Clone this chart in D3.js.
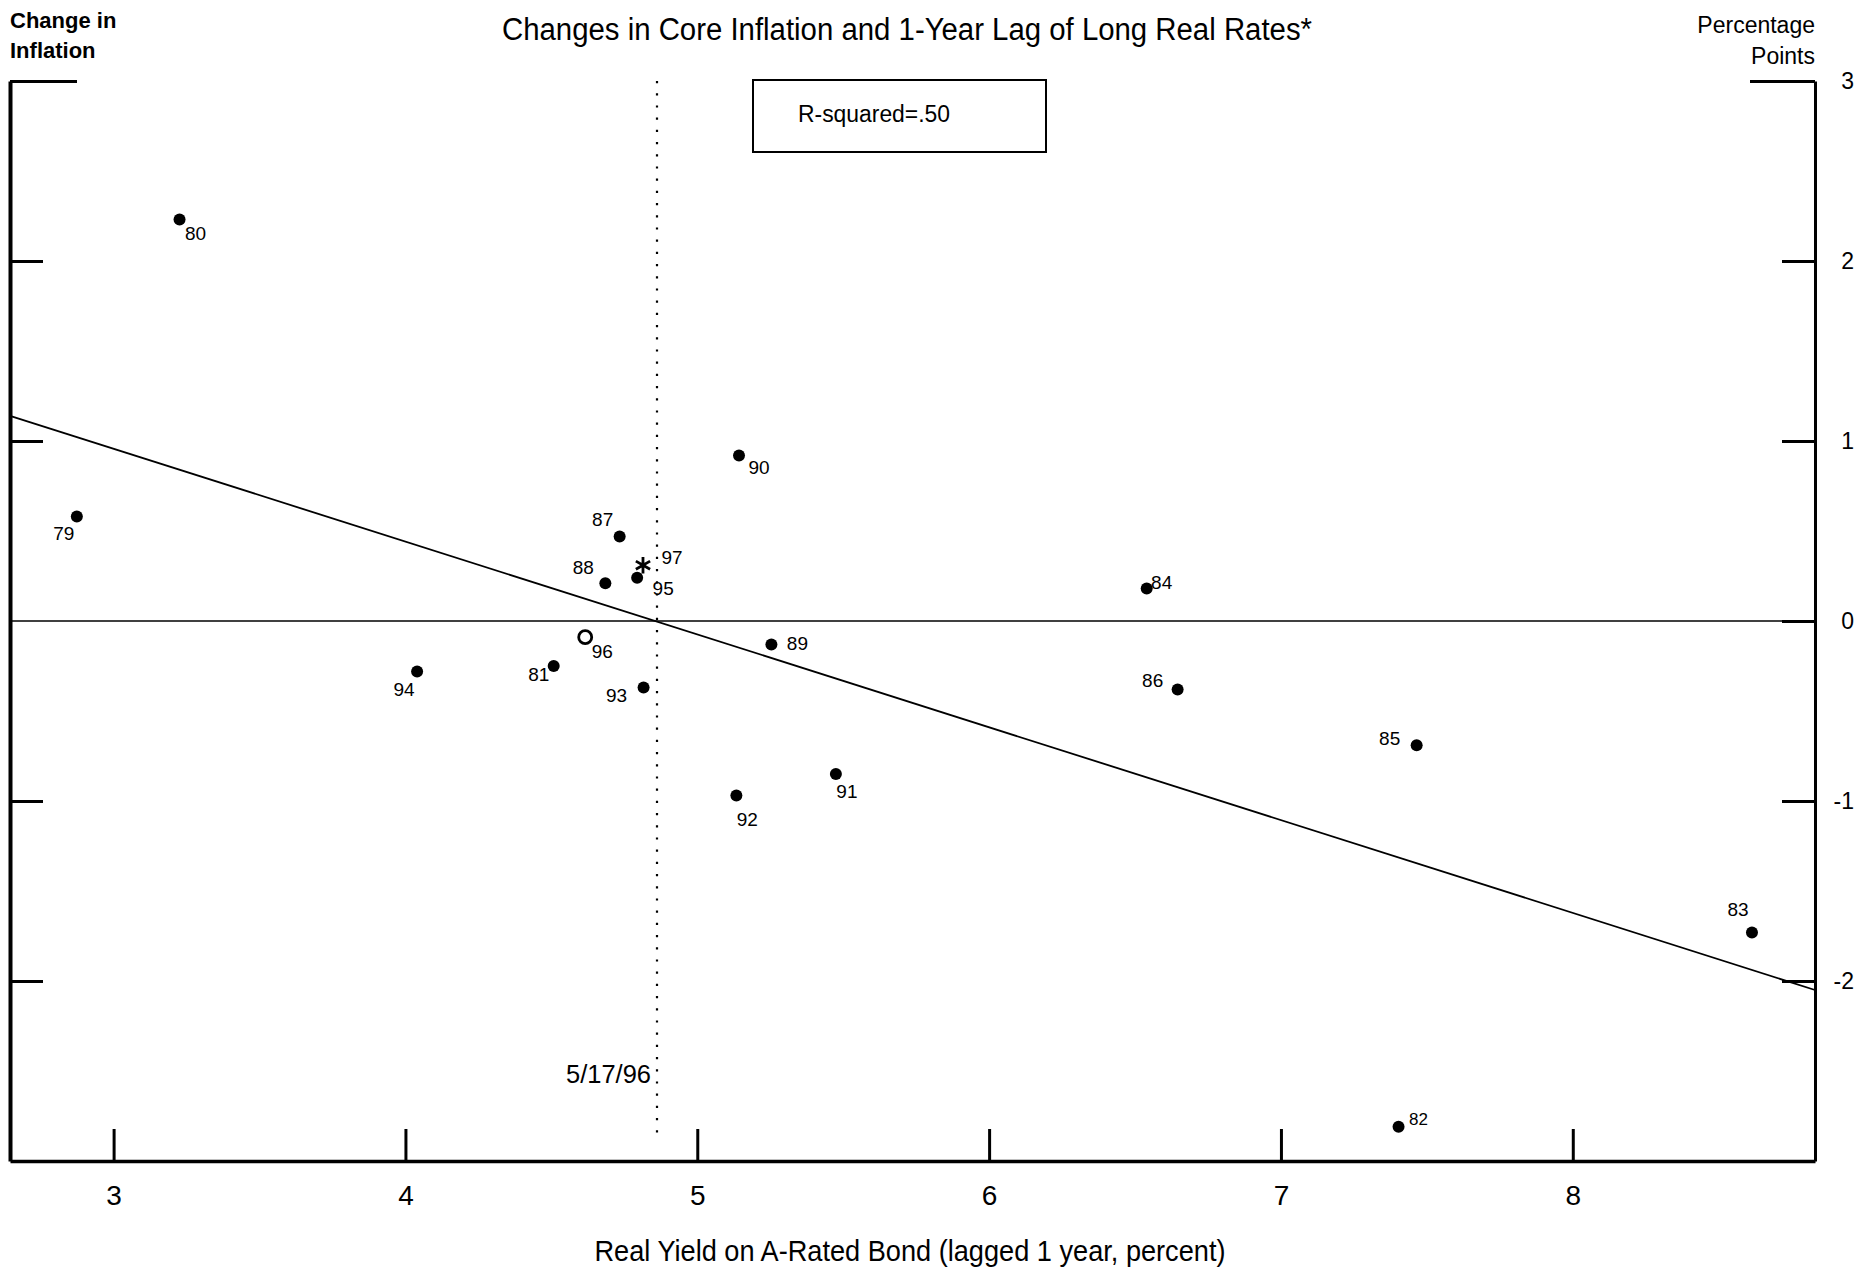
<!DOCTYPE html>
<html>
<head>
<meta charset="utf-8">
<script src="https://cdn.jsdelivr.net/npm/d3@7"></script>
<style>
body { margin: 0; background: #fff; }
text { font-family: "Liberation Sans", Arial, sans-serif; fill: #000; }
</style>
</head>
<body>
<div id="scatterplot"></div>
<script>
var svgWidth = 1874;
var svgHeight = 1268;

var margin = {
  top: 81,
  right: 59,
  bottom: 107,
  left: 10
};

var width = svgWidth - margin.left - margin.right;
var height = svgHeight - margin.top - margin.bottom;

// data
var years = ["79", "80", "81", "82", "83", "84", "85", "86", "87", "88",
             "89", "90", "91", "92", "93", "94", "95", "96", "97"];
var realYield = [2.874, 3.226, 4.508, 7.403, 8.614, 6.540, 7.465, 6.646, 4.734, 4.685,
                 5.254, 5.143, 5.475, 5.134, 4.816, 4.040, 4.794, 4.616, 4.814];
var inflationChange = [0.58, 2.23, -0.25, -2.81, -1.73, 0.18, -0.69, -0.38, 0.47, 0.21,
                       -0.13, 0.92, -0.85, -0.97, -0.37, -0.28, 0.24, -0.09, 0.31];
var markerKind = ["dot", "dot", "dot", "dot", "dot", "dot", "dot", "dot", "dot", "dot",
                  "dot", "dot", "dot", "dot", "dot", "dot", "dot", "open", "star"];

var fitX = [2.645, 8.83];
var fitY = [1.14, -2.05];
var dateLineX = 4.862;
var dateLineY = [3, -2.85];

var xTicks = [3, 4, 5, 6, 7, 8];
var yTicks = [3, 2, 1, 0, -1, -2];

// label placement (pixels from the point)
var labelOffset = {
  "79": [-13, 17], "80": [16, 14], "81": [-15, 8], "82": [20, -8], "83": [-14, -23],
  "84": [15, -6], "85": [-27, -7], "86": [-25, -9], "87": [-17, -17], "88": [-22, -16],
  "89": [26, -1], "90": [20, 12], "91": [11, 17], "92": [11, 24], "93": [-27, 8],
  "94": [-13, 18], "95": [26, 11], "96": [17, 14], "97": [29, -8]
};

var points = years.map(function(yr, i) {
  return {year: yr, x: realYield[i], y: inflationChange[i], kind: markerKind[i]};
});

var svg = d3.select("#scatterplot")
.append("svg")
.attr("width", svgWidth)
.attr("height", svgHeight);

var chartGroup = svg.append("g")
.attr("transform", `translate(${margin.left}, ${margin.top})`);

var xLinearScale = d3.scaleLinear()
.domain([2.645, 8.83])
.range([0, width]);

var yLinearScale = d3.scaleLinear()
.domain([-3, 3])
.range([height, 0]);

// zero line
chartGroup.append("line")
.attr("x1", 0)
.attr("x2", width)
.attr("y1", yLinearScale(0))
.attr("y2", yLinearScale(0))
.attr("stroke", "#000")
.attr("stroke-width", 1.6);

// dotted date line
chartGroup.append("line")
.attr("x1", xLinearScale(dateLineX))
.attr("x2", xLinearScale(dateLineX))
.attr("y1", yLinearScale(dateLineY[0]))
.attr("y2", yLinearScale(dateLineY[1]))
.attr("stroke", "#000")
.attr("stroke-width", 2.2)
.attr("stroke-dasharray", "2.2,10");

chartGroup.append("text")
.attr("x", xLinearScale(dateLineX) - 6)
.attr("y", yLinearScale(-2.52))
.attr("dy", "0.35em")
.attr("text-anchor", "end")
.attr("font-size", 25)
.attr("textLength", 85)
.attr("lengthAdjust", "spacingAndGlyphs")
.text("5/17/96");

// regression line
var fitLine = d3.line()
.x(d => xLinearScale(d[0]))
.y(d => yLinearScale(d[1]));

chartGroup.append("path")
.datum(fitX.map((v, i) => [v, fitY[i]]))
.attr("d", fitLine)
.attr("fill", "none")
.attr("stroke", "#000")
.attr("stroke-width", 1.8);

// axes
var bottomAxis = d3.axisBottom(xLinearScale)
.tickValues(xTicks)
.tickSizeInner(-32)
.tickSizeOuter(0)
.tickFormat(d3.format("d"));

var gx = chartGroup.append("g")
.attr("transform", `translate(0, ${height})`)
.call(bottomAxis)
.attr("font-family", null)
.attr("font-size", null);
gx.select(".domain").attr("stroke-width", 3.5);
gx.selectAll(".tick line").attr("stroke-width", 3);
gx.selectAll(".tick text")
.attr("y", 34)
.attr("dy", "0.35em")
.attr("font-size", 28);

var leftAxis = d3.axisRight(yLinearScale)
.tickValues([3, 2, 1, -1, -2])
.tickSizeInner(33)
.tickSizeOuter(0)
.tickFormat("");

var gl = chartGroup.append("g")
.call(leftAxis);
gl.select(".domain").attr("stroke-width", 4);
gl.selectAll(".tick line")
.attr("stroke-width", 3)
.attr("x2", d => d === 3 ? 67 : 33);

var rightAxis = d3.axisRight(yLinearScale)
.tickValues(yTicks)
.tickSizeInner(-33)
.tickSizeOuter(0)
.tickFormat(d => String(d));

var gr = chartGroup.append("g")
.attr("transform", `translate(${width}, 0)`)
.call(rightAxis)
.attr("font-family", null)
.attr("font-size", null);
gr.select(".domain").attr("stroke-width", 3);
gr.selectAll(".tick line")
.attr("stroke-width", 3)
.attr("x2", d => d === 3 ? -65 : -33);
gr.selectAll(".tick text")
.attr("x", 39)
.attr("text-anchor", "end")
.attr("font-size", 23);

// points
var dots = chartGroup.selectAll(".pt").data(points).enter()
.append("g")
.attr("class", "pt")
.attr("transform", d => `translate(${xLinearScale(d.x)}, ${yLinearScale(d.y)})`);

dots.filter(d => d.kind === "dot").append("circle")
.attr("r", 6)
.attr("fill", "#000");

dots.filter(d => d.kind === "open").append("circle")
.attr("r", 6.5)
.attr("fill", "none")
.attr("stroke", "#000")
.attr("stroke-width", 2.8);

dots.filter(d => d.kind === "star").append("path")
.attr("d", d3.symbol(d3.symbolAsterisk, 190))
.attr("fill", "none")
.attr("stroke", "#000")
.attr("stroke-width", 2.8);

dots.append("text")
.attr("x", d => labelOffset[d.year][0])
.attr("y", d => labelOffset[d.year][1])
.attr("dy", "0.35em")
.attr("text-anchor", "middle")
.attr("font-size", d => d.year === "82" ? 17 : 19)
.text(d => d.year);

// R-squared box
var boxG = chartGroup.append("g");
boxG.append("rect")
.attr("x", 743)
.attr("y", -1)
.attr("width", 293)
.attr("height", 72)
.attr("fill", "none")
.attr("stroke", "#000")
.attr("stroke-width", 2);
boxG.append("text")
.attr("x", 788)
.attr("y", 33)
.attr("dy", "0.35em")
.attr("font-size", 23)
.attr("textLength", 152)
.attr("lengthAdjust", "spacingAndGlyphs")
.text("R-squared=.50");

// titles
svg.append("text")
.attr("x", 907)
.attr("y", 29)
.attr("dy", "0.35em")
.attr("text-anchor", "middle")
.attr("font-size", 31)
.attr("textLength", 810)
.attr("lengthAdjust", "spacingAndGlyphs")
.text("Changes in Core Inflation and 1-Year Lag of Long Real Rates*");

svg.append("text")
.attr("x", 10)
.attr("y", 20)
.attr("dy", "0.35em")
.attr("font-size", 22)
.attr("font-weight", "bold")
.text("Change in");

svg.append("text")
.attr("x", 10)
.attr("y", 50)
.attr("dy", "0.35em")
.attr("font-size", 22)
.attr("font-weight", "bold")
.text("Inflation");

svg.append("text")
.attr("x", 1815)
.attr("y", 25)
.attr("dy", "0.35em")
.attr("text-anchor", "end")
.attr("font-size", 23)
.text("Percentage");

svg.append("text")
.attr("x", 1815)
.attr("y", 56)
.attr("dy", "0.35em")
.attr("text-anchor", "end")
.attr("font-size", 23)
.text("Points");

svg.append("text")
.attr("x", 910)
.attr("y", 1251)
.attr("dy", "0.35em")
.attr("text-anchor", "middle")
.attr("font-size", 29)
.attr("textLength", 631)
.attr("lengthAdjust", "spacingAndGlyphs")
.text("Real Yield on A-Rated Bond (lagged 1 year, percent)");
</script>
</body>
</html>
